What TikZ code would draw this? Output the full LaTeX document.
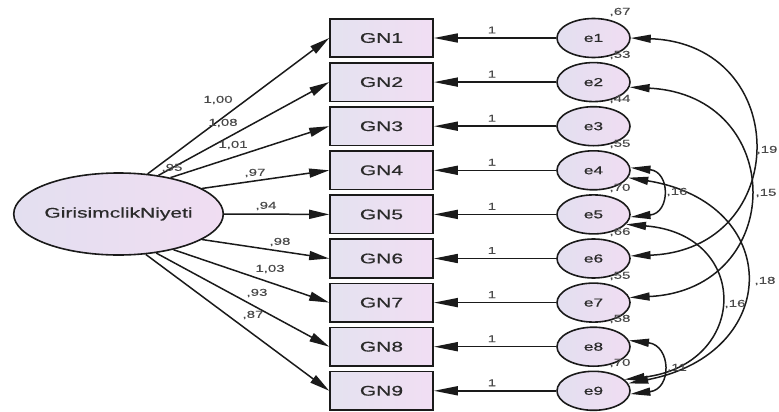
\documentclass[tikz,border=0pt]{standalone}
\usepackage{fontspec}
\setmainfont{Liberation Sans}
\newfontfamily\wf[FakeStretch=1.5,FakeBold=0.6]{Liberation Sans}
\newfontfamily\wl[FakeStretch=1.5,FakeBold=0.3]{Liberation Sans}
\usetikzlibrary{shapes.geometric,arrows.meta}
\definecolor{linec}{HTML}{1A1A1A}
\definecolor{txt}{HTML}{2A2A2A}
\definecolor{lab}{HTML}{4A4A4A}
\definecolor{boxL}{HTML}{E4E2F0}
\definecolor{boxR}{HTML}{F1DEF3}
\definecolor{ellL}{HTML}{E3DFF0}
\definecolor{ellR}{HTML}{F0DDF2}
\begin{document}
\begin{tikzpicture}[x=1pt,y=-1pt,
  obs/.style={draw=linec, line width=1.6pt, rectangle, minimum width=103pt, minimum height=38.5pt, inner sep=0pt, left color=boxL, right color=boxR, font=\wf\fontsize{14}{14}\selectfont, text=txt},
  err/.style={draw=linec, line width=1.6pt, ellipse, minimum width=73pt, minimum height=39pt, inner sep=0pt, left color=ellL, right color=ellR, font=\wf\fontsize{11.5}{12}\selectfont, text=txt},
  lat/.style={draw=linec, line width=1.6pt, ellipse, minimum width=207pt, minimum height=82pt, inner sep=0pt, left color=ellL, right color=ellR, font=\wf\fontsize{14}{14}\selectfont, text=txt},
  lbl/.style={font=\wl\fontsize{10}{10}\selectfont, text=lab, inner sep=0pt},
  ld/.style={draw=linec, line width=1.5pt, -{Triangle[length=20pt,width=9pt]}},
  lh/.style={draw=linec, line width=1.5pt, -{Triangle[length=24pt,width=9pt]}},
  cv/.style={draw=linec, line width=1.5pt, {Triangle[length=20pt,width=8pt]}-{Triangle[length=20pt,width=8pt]}}
]
\useasboundingbox (0,0) rectangle (779,412);

\node[lat] (F) at (118.5,214) {GirisimclikNiyeti};

\foreach \i in {1,...,9} {
  \node[obs] (GN\i) at (381.5,{38+44.1*(\i-1)}) {GN\i};
  \node[err] (e\i) at (593.5,{38+44.1*(\i-1)}) {e\i};
  \draw[lh] (e\i) -- (GN\i);
  \node[lbl] (one\i) at (492,{30+44.1*(\i-1)}) {1};
}

% loadings
\draw[ld] (F.54) -- (GN1.west);
\draw[ld] (F.44) -- (GN2.west);
\draw[ld] (F.35) -- (GN3.west);
\draw[ld] (F.17) -- (GN4.west);
\draw[ld] (F.0) -- (GN5.west);
\draw[ld] (F.-17) -- (GN6.west);
\draw[ld] (F.-33) -- (GN7.west);
\draw[ld] (F.-46) -- (GN8.west);
\draw[ld] (F.-56) -- (GN9.west);

\node[lbl] (l1) at (218,100) {1,00};
\node[lbl] (l2) at (223,123) {1,08};
\node[lbl] (l3) at (233,145) {1,01};
\node[lbl] (l4) at (172,168) {,95};
\node[lbl] (l5) at (255,173) {,97};
\node[lbl] (l6) at (266,206) {,94};
\node[lbl] (l7) at (280,242) {,98};
\node[lbl] (l8) at (270,269) {1,03};
\node[lbl] (l9) at (257,293) {,93};
\node[lbl] (l10) at (253,315) {,87};

% variances
\node[lbl] (v1) at (620,12) {,67};
\node[lbl] (v2) at (620,55) {,53};
\node[lbl] (v3) at (620,99) {,44};
\node[lbl] (v4) at (620,144) {,55};
\node[lbl] (v5) at (620,188) {,70};
\node[lbl] (v6) at (620,232) {,66};
\node[lbl] (v7) at (620,276) {,55};
\node[lbl] (v8) at (620,319) {,58};
\node[lbl] (v9) at (620,363) {,70};

% covariances
\draw[cv] (e1.east) .. controls +(162,6) and +(162,-6) .. (e6.4);
\draw[cv] (e2.-8) .. controls +(158,8) and +(158,-8) .. (e7.8);
\draw[cv] (e4.4) .. controls +(40,4) and +(40,-4) .. (e5.-4);
\draw[cv] (e4.-12) .. controls +(155,25) and +(155,-30) .. (e9.12);
\draw[cv] (e5.-17) .. controls +(125,10) and +(125,-15) .. (e9.20);
\draw[cv] (e8.10) .. controls +(42,5) and +(42,-5) .. (e9.-5);

\node[lbl] (c1) at (767,150) {,19};
\node[lbl] (c2) at (766,193) {,15};
\node[lbl] (c3) at (677,192) {,16};
\node[lbl] (c4) at (765,281) {,18};
\node[lbl] (c5) at (735,304) {,16};
\node[lbl] (c6) at (677,368) {,11};
\end{tikzpicture}
\end{document}
